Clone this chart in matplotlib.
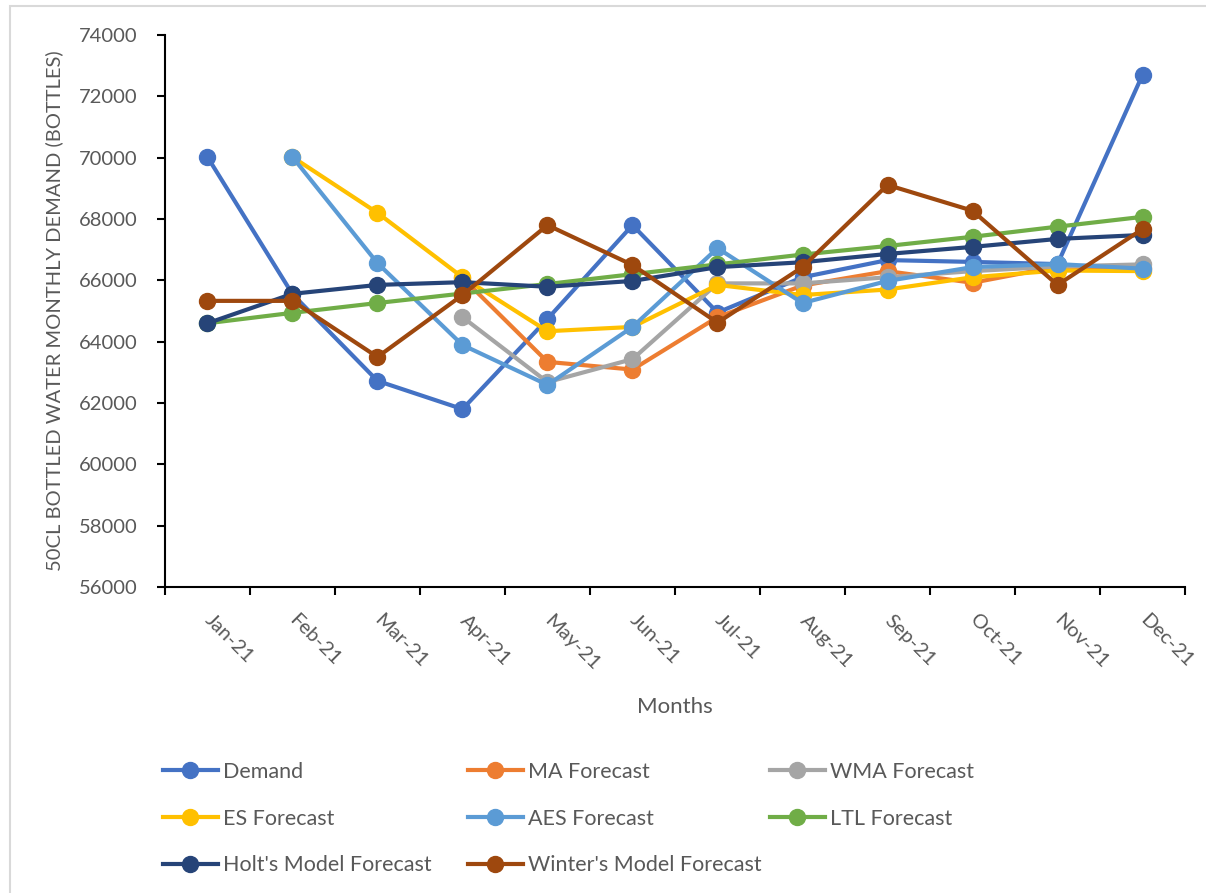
import matplotlib.pyplot as plt
from matplotlib.lines import Line2D
from matplotlib.patches import Rectangle
import numpy as np

plt.rcParams['font.family'] = ['Lato', 'DejaVu Sans']

months = ['Jan-21', 'Feb-21', 'Mar-21', 'Apr-21', 'May-21', 'Jun-21',
          'Jul-21', 'Aug-21', 'Sep-21', 'Oct-21', 'Nov-21', 'Dec-21']

nan = np.nan
demand = [70020, 65550, 62720, 61800, 64740, 67800, 64950, 66100, 66660, 66600, 66530, 72700]
ma_forecast = [nan, nan, nan, 66080, 63340, 63090, 64800, 65830, 66300, 65920, 66450, 66400]
wma_forecast = [nan, nan, nan, 64800, 62680, 63430, 65900, 65900, 66100, 66300, 66450, 66520]
es_forecast = [nan, 70020, 68200, 66100, 64340, 64480, 65850, 65520, 65700, 66100, 66320, 66300]
aes_forecast = [nan, 70020, 66560, 63890, 62590, 64480, 67050, 65260, 65980, 66430, 66530, 66380]
ltl_forecast = [64600, 64940, 65260, 65570, 65880, 66200, 66520, 66840, 67120, 67420, 67750, 68070]
holt_forecast = [64600, 65560, 65850, 65940, 65790, 65980, 66430, 66590, 66860, 67090, 67350, 67480]
winter_forecast = [65330, 65330, 63500, 65520, 67800, 66500, 64620, 66430, 69110, 68270, 65850, 67670]

series = [
    ('Demand', demand, '#4472C4'),
    ('MA Forecast', ma_forecast, '#ED7D31'),
    ('WMA Forecast', wma_forecast, '#A5A5A5'),
    ('ES Forecast', es_forecast, '#FFC000'),
    ('AES Forecast', aes_forecast, '#5B9BD5'),
    ('LTL Forecast', ltl_forecast, '#70AD47'),
    ("Holt's Model Forecast", holt_forecast, '#264478'),
    ("Winter's Model Forecast", winter_forecast, '#9E480E'),
]

text_grey = '#595959'

fig = plt.figure(figsize=(12.06, 8.93), dpi=100)
ax = fig.add_axes([0.1368, 0.3427, 0.8458, 0.6181])

x = np.arange(len(months))
handles = {}
for name, values, color in series:
    line, = ax.plot(x, values, color=color, linewidth=3, marker='o',
                    markersize=11.5, solid_capstyle='round', label=name)
    handles[name] = line

ax.set_xlim(-0.5, len(months) - 0.5)
ax.set_ylim(56000, 74000)
ax.set_yticks(np.arange(56000, 74001, 2000))

# category ticks sit between months, labels sit on the months
ax.set_xticks(x)
ax.set_xticks(np.arange(-0.5, len(months)), minor=True)
ax.set_xticklabels(months, rotation=-45, ha='left', va='center',
                   rotation_mode='anchor', color=text_grey, fontsize=14.5)
ax.tick_params(axis='x', which='major', length=0, pad=22)
ax.tick_params(axis='x', which='minor', length=6, width=1.5, color='black')
ax.tick_params(axis='y', length=6, width=1.5, pad=14, labelsize=14.5,
               labelcolor=text_grey)

for side in ['top', 'right']:
    ax.spines[side].set_visible(False)
for side in ['left', 'bottom']:
    ax.spines[side].set_linewidth(1.5)

ax.set_ylabel('50CL BOTTLED WATER MONTHLY DEMAND (BOTTLES)', color=text_grey,
              fontsize=14.5, labelpad=11)
ax.set_xlabel('Months', color=text_grey, fontsize=16, labelpad=17)

# legend laid out in three fixed columns
columns = [
    (['Demand', 'ES Forecast', "Holt's Model Forecast"], 163 / 1206),
    (['MA Forecast', 'AES Forecast', "Winter's Model Forecast"], 468 / 1206),
    (['WMA Forecast', 'LTL Forecast'], 770 / 1206),
]
for names, xpos in columns:
    hs = [Line2D([], [], color=handles[n].get_color(), linewidth=3, marker='o',
                 markersize=11.5) for n in names]
    leg = fig.legend(hs, names, loc='upper left', bbox_to_anchor=(xpos, 0.1467),
                     frameon=False, fontsize=15.5, handlelength=2.55,
                     handletextpad=0.25, labelspacing=1.24, borderpad=0,
                     borderaxespad=0)
    for t in leg.get_texts():
        t.set_color(text_grey)

# chart area border
fig.patches.append(Rectangle((10 / 1206, -0.1), 1.2, (893 - 6) / 893 + 0.1,
                             transform=fig.transFigure, fill=False,
                             edgecolor='#D9D9D9', linewidth=1.5))

fig.savefig('out.png', dpi=100)
